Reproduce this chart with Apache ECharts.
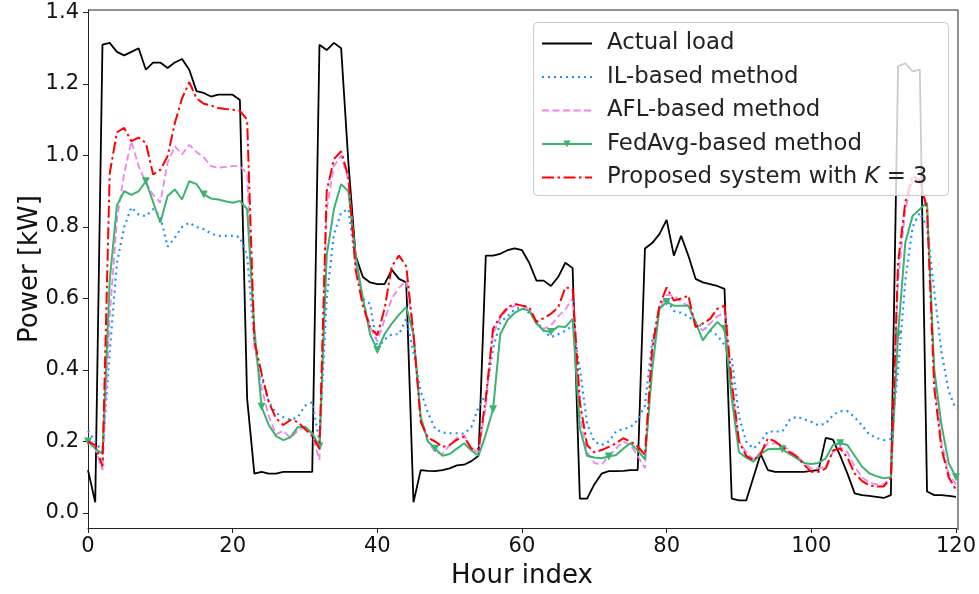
<!DOCTYPE html>
<html>
<head>
<meta charset="utf-8">
<script src="https://cdn.jsdelivr.net/npm/echarts@6/dist/echarts.min.js"></script>
<style>
  html, body { margin: 0; padding: 0; background: #ffffff; }
  #chart { width: 979px; height: 594px; }
</style>
</head>
<body>
<div id="chart"></div>
<script>
// Hourly load (kW) over 121 hours: measured load and four forecasting methods.
const actualLoad = [
  0.12, 0.03, 1.31, 1.315, 1.29, 1.28, 1.29, 1.30, 1.24, 1.26,
  1.26, 1.245, 1.26, 1.27, 1.24, 1.18, 1.175, 1.165, 1.17, 1.17,
  1.17, 1.155, 0.32, 0.11, 0.115, 0.11, 0.11, 0.115, 0.115, 0.115,
  0.115, 0.115, 1.31, 1.295, 1.315, 1.30, 0.98, 0.72, 0.66, 0.645,
  0.64, 0.64, 0.68, 0.655, 0.645, 0.03, 0.12, 0.118, 0.117, 0.12,
  0.125, 0.133, 0.135, 0.145, 0.16, 0.72, 0.72, 0.725, 0.735, 0.74,
  0.735, 0.70, 0.65, 0.65, 0.635, 0.66, 0.70, 0.685, 0.04, 0.04,
  0.08, 0.11, 0.117, 0.117, 0.118, 0.12, 0.12, 0.74, 0.755, 0.78,
  0.82, 0.72, 0.775, 0.72, 0.655, 0.645, 0.64, 0.635, 0.627, 0.04,
  0.035, 0.035, 0.10, 0.165, 0.12, 0.115, 0.115, 0.115, 0.115, 0.115,
  0.118, 0.12, 0.21, 0.205, 0.16, 0.11, 0.055, 0.05, 0.048, 0.045,
  0.042, 0.05, 1.25, 1.258, 1.235, 1.24, 0.06, 0.05, 0.05, 0.048,
  0.045
];
const ilBased = [
  0.23, 0.20, 0.17, 0.45, 0.70, 0.80, 0.855, 0.835, 0.83, 0.85,
  0.83, 0.745, 0.77, 0.80, 0.812, 0.80, 0.794, 0.782, 0.775, 0.775,
  0.775, 0.772, 0.72, 0.48, 0.38, 0.31, 0.28, 0.268, 0.26, 0.268,
  0.30, 0.31, 0.20, 0.60, 0.78, 0.84, 0.85, 0.70, 0.60, 0.585,
  0.46, 0.485, 0.50, 0.50, 0.543, 0.45, 0.34, 0.28, 0.235, 0.225,
  0.223, 0.223, 0.222, 0.24, 0.297, 0.33, 0.46, 0.534, 0.55, 0.57,
  0.575, 0.56, 0.538, 0.51, 0.492, 0.50, 0.51, 0.524, 0.404, 0.25,
  0.20, 0.19, 0.20, 0.228, 0.235, 0.24, 0.26, 0.30, 0.48, 0.57,
  0.60, 0.565, 0.56, 0.55, 0.534, 0.52, 0.51, 0.497, 0.47, 0.43,
  0.27, 0.20, 0.18, 0.20, 0.228, 0.228, 0.228, 0.26, 0.27, 0.262,
  0.255, 0.245, 0.25, 0.274, 0.285, 0.285, 0.268, 0.245, 0.22, 0.21,
  0.204, 0.207, 0.40, 0.65, 0.80, 0.84, 0.80, 0.62, 0.45, 0.34,
  0.29
];
const aflBased = [
  0.21, 0.18, 0.12, 0.55, 0.82, 0.95, 1.04, 0.97, 0.924, 0.89,
  0.868, 0.98, 1.026, 1.003, 1.03, 1.01, 0.995, 0.97, 0.966, 0.968,
  0.97, 0.97, 0.95, 0.47, 0.35, 0.27, 0.22, 0.23, 0.21, 0.23,
  0.241, 0.22, 0.148, 0.85, 0.97, 1.00, 0.93, 0.70, 0.60, 0.52,
  0.48, 0.54, 0.60, 0.63, 0.65, 0.50, 0.26, 0.20, 0.17, 0.165,
  0.19, 0.21, 0.218, 0.18, 0.17, 0.30, 0.50, 0.545, 0.57, 0.58,
  0.58, 0.57, 0.53, 0.515, 0.524, 0.55, 0.57, 0.60, 0.274, 0.17,
  0.14, 0.135, 0.16, 0.18, 0.20, 0.19, 0.16, 0.125, 0.45, 0.57,
  0.61, 0.608, 0.59, 0.58, 0.53, 0.51, 0.53, 0.55, 0.56, 0.35,
  0.20, 0.17, 0.15, 0.17, 0.195, 0.195, 0.19, 0.175, 0.16, 0.14,
  0.125, 0.125, 0.13, 0.17, 0.185, 0.17, 0.13, 0.10, 0.085, 0.08,
  0.08, 0.10, 0.65, 0.85, 0.93, 0.93, 0.86, 0.38, 0.20, 0.11,
  0.08
];
const fedAvgBased = [
  0.20, 0.18, 0.165, 0.65, 0.86, 0.90, 0.89, 0.90, 0.928, 0.87,
  0.812, 0.887, 0.905, 0.877, 0.928, 0.92, 0.891, 0.88, 0.877, 0.872,
  0.868, 0.873, 0.85, 0.515, 0.297, 0.246, 0.215, 0.204, 0.212, 0.24,
  0.241, 0.223, 0.186, 0.72, 0.85, 0.92, 0.90, 0.72, 0.60, 0.50,
  0.455, 0.50, 0.53, 0.555, 0.576, 0.50, 0.27, 0.20, 0.18, 0.16,
  0.165, 0.18, 0.195, 0.175, 0.16, 0.22, 0.29, 0.50, 0.54, 0.56,
  0.571, 0.566, 0.53, 0.51, 0.506, 0.522, 0.52, 0.543, 0.237, 0.16,
  0.155, 0.153, 0.158, 0.162, 0.18, 0.195, 0.175, 0.15, 0.40, 0.571,
  0.59, 0.58, 0.58, 0.58, 0.534, 0.483, 0.511, 0.534, 0.515, 0.32,
  0.17, 0.155, 0.144, 0.165, 0.178, 0.18, 0.178, 0.165, 0.153, 0.14,
  0.137, 0.14, 0.153, 0.19, 0.195, 0.19, 0.16, 0.13, 0.111, 0.103,
  0.097, 0.10, 0.50, 0.757, 0.831, 0.85, 0.868, 0.40, 0.246, 0.14,
  0.10
];
const proposedK3 = [
  0.20, 0.19, 0.13, 0.95, 1.065, 1.077, 1.04, 1.05, 1.035, 0.947,
  0.96, 0.998, 1.09, 1.16, 1.205, 1.16, 1.145, 1.14, 1.133, 1.13,
  1.128, 1.125, 1.10, 0.48, 0.39, 0.31, 0.265, 0.246, 0.26, 0.255,
  0.235, 0.215, 0.18, 0.90, 0.99, 1.012, 0.94, 0.68, 0.58, 0.52,
  0.497, 0.571, 0.69, 0.72, 0.69, 0.50, 0.255, 0.21, 0.20, 0.185,
  0.19, 0.205, 0.213, 0.18, 0.18, 0.32, 0.515, 0.55, 0.575, 0.585,
  0.58, 0.576, 0.534, 0.545, 0.557, 0.575, 0.631, 0.627, 0.311, 0.19,
  0.17, 0.176, 0.185, 0.195, 0.209, 0.20, 0.186, 0.162, 0.46, 0.58,
  0.631, 0.594, 0.60, 0.608, 0.52, 0.53, 0.543, 0.571, 0.58, 0.367,
  0.20, 0.16, 0.148, 0.165, 0.209, 0.20, 0.185, 0.17, 0.158, 0.135,
  0.115, 0.115, 0.125, 0.175, 0.18, 0.155, 0.11, 0.09, 0.077, 0.074,
  0.074, 0.097, 0.70, 0.87, 0.942, 0.93, 0.85, 0.35, 0.18, 0.10,
  0.065
];

const seriesNames = [
  'Actual load',
  'IL-based method',
  'AFL-based method',
  'FedAvg-based method',
  'Proposed system with K = 3'
];
const xTicks = [0, 20, 40, 60, 80, 100, 120];
const yTicks = [0.0, 0.2, 0.4, 0.6, 0.8, 1.0, 1.2, 1.4];

const FONT = 'DejaVu Sans';

// pair each value with its hour index
const toPoints = arr => arr.map((v, i) => [i, v]);

// FedAvg curve carries a down-pointing triangle on every 8th hour
const fedAvgPoints = fedAvgBased.map((v, i) =>
  i % 8 === 0 ? { value: [i, v] } : { value: [i, v], symbol: 'none' });

// legend entries: plain line samples, except FedAvg which keeps its marker
const hiddenMarker = { opacity: 0, borderWidth: 0 };
const legendData = seriesNames.map((name, i) =>
  i === 3 ? { name } : { name, itemStyle: hiddenMarker });

const chart = echarts.init(document.getElementById('chart'), null, { renderer: 'canvas' });

chart.setOption({
  animation: false,
  backgroundColor: '#ffffff',
  grid: { left: 88, right: 21, top: 10, bottom: 64, show: false },
  xAxis: {
    type: 'value',
    min: 0, max: 120, interval: 20,
    name: 'Hour index',
    nameLocation: 'middle',
    nameGap: 35,
    nameMoveOverlap: false,
    nameTextStyle: { fontFamily: FONT, fontSize: 26, color: '#111' },
    axisLine: { show: true, onZero: false, lineStyle: { color: '#222', width: 1 } },
    axisTick: { show: true, length: 5, lineStyle: { color: '#222' } },
    axisLabel: { margin: 8, fontFamily: FONT, fontSize: 21, color: '#111',
                 customValues: xTicks },
    splitLine: { show: false }
  },
  yAxis: {
    type: 'value',
    min: -0.042, max: 1.407,
    name: 'Power [kW]',
    nameLocation: 'middle',
    nameGap: 45,
    nameMoveOverlap: false,
    nameTextStyle: { fontFamily: FONT, fontSize: 26, color: '#111' },
    axisLine: { show: true, onZero: false, lineStyle: { color: '#222', width: 1 } },
    axisTick: { show: true, length: 5, lineStyle: { color: '#222' }, customValues: yTicks },
    axisLabel: { margin: 9, fontFamily: FONT, fontSize: 21, color: '#111',
                 customValues: yTicks,
                 formatter: v => v.toFixed(1) },
    splitLine: { show: false }
  },
  // top and right frame lines of the plotting area, and the legend panel
  graphic: [
    { type: 'line', shape: { x1: 88, y1: 10, x2: 958, y2: 10 },
      style: { stroke: '#222', lineWidth: 1 }, z: 5, silent: true },
    { type: 'line', shape: { x1: 958, y1: 10, x2: 958, y2: 530 },
      style: { stroke: '#222', lineWidth: 1 }, z: 5, silent: true },
    { type: 'rect', shape: { x: 533.5, y: 22.5, width: 415, height: 173, r: 4 },
      style: { fill: 'rgba(255,255,255,0.8)', stroke: '#cccccc', lineWidth: 1 },
      z: 10, silent: true }
  ],
  legend: {
    orient: 'vertical',
    left: 541, top: 30,
    padding: 0,
    itemWidth: 50, itemHeight: 9,
    itemGap: 6.5,
    z: 11,
    data: legendData,
    textStyle: {
      fontFamily: FONT, fontSize: 22.8, color: '#222', lineHeight: 27,
      padding: [0, 0, 0, 10],
      rich: { it: { fontFamily: FONT, fontSize: 22.8, fontStyle: 'italic', color: '#222' } }
    },
    formatter: name => name === 'Proposed system with K = 3'
      ? 'Proposed system with {it|K} = 3' : name
  },
  series: [
    {
      name: seriesNames[0], type: 'line', data: toPoints(actualLoad),
      symbol: 'none', z: 2,
      lineStyle: { color: '#000000', width: 1.8 },
      itemStyle: { color: '#000000' }
    },
    {
      name: seriesNames[1], type: 'line', data: toPoints(ilBased),
      symbol: 'none', z: 3,
      lineStyle: { color: '#1E90FF', width: 2.2, type: [2, 4] },
      itemStyle: { color: '#1E90FF' }
    },
    {
      name: seriesNames[2], type: 'line', data: toPoints(aflBased),
      symbol: 'none', z: 4,
      lineStyle: { color: '#EE82EE', width: 1.8, type: [7, 3.5] },
      itemStyle: { color: '#EE82EE' }
    },
    {
      name: seriesNames[3], type: 'line', data: fedAvgPoints,
      symbol: 'triangle', symbolSize: 8, symbolRotate: 180, showSymbol: true,
      z: 5,
      lineStyle: { color: '#3CB371', width: 2 },
      itemStyle: { color: '#3CB371', borderWidth: 0 }
    },
    {
      name: seriesNames[4], type: 'line', data: toPoints(proposedK3),
      symbol: 'none', z: 6,
      lineStyle: { color: '#FF0000', width: 2, type: [12, 3.5, 2.5, 3.5] },
      itemStyle: { color: '#FF0000' }
    }
  ]
});
</script>
</body>
</html>
